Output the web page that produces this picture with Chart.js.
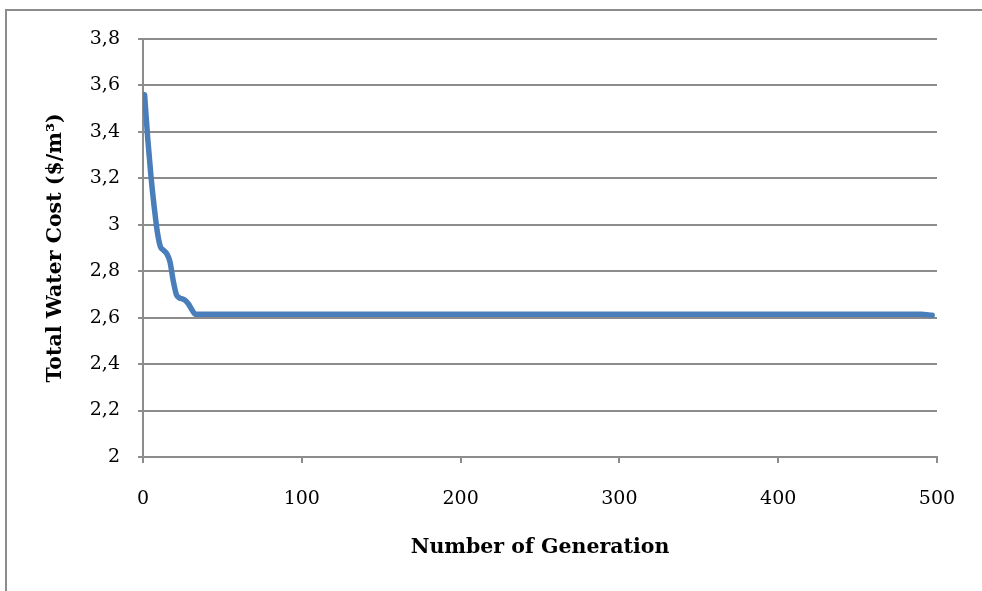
<!DOCTYPE html>
<html>
<head>
<meta charset="utf-8">
<script src="https://cdn.jsdelivr.net/npm/chart.js@4.4.0/dist/chart.umd.min.js"></script>
<style>
  html, body { margin: 0; padding: 0; background: #fff; overflow: hidden; }
  #wrap { position: relative; width: 982px; height: 591px; overflow: hidden; }
  #frame { position: absolute; left: 5px; top: 9px; width: 1000px; height: 600px; border: 2px solid #8c8c8c; box-sizing: border-box; }
  #chart { position: absolute; left: 0; top: 0; }
</style>
</head>
<body>
<div id="wrap">
  <div id="frame"></div>
  <canvas id="chart" width="982" height="591"></canvas>
</div>
<script>
// generation number and best total water cost ($/m3)
const generations = [1, 3, 5, 7, 9, 11, 13, 15, 17, 19, 21, 23, 25, 27, 29, 31, 33, 50, 100, 150, 200, 250, 300, 350, 400, 450, 490, 497];
const waterCost = [3.56, 3.37, 3.21, 3.08, 2.97, 2.905, 2.89, 2.875, 2.84, 2.76, 2.70, 2.685, 2.68, 2.672, 2.655, 2.632, 2.615, 2.615, 2.615, 2.615, 2.615, 2.615, 2.615, 2.615, 2.615, 2.615, 2.615, 2.61];

const xMin = 0, xMax = 500, xStep = 100;
const yMin = 2, yMax = 3.8, yStep = 0.2;

const gridGrey = '#8c8c8c';
const tickFont = { family: 'DejaVu Serif', size: 19 };
const titleFont = { family: 'DejaVu Serif', size: 20.5, weight: 'bold' };

function commaDecimal(v) {
  return Number(v.toFixed(1)).toString().replace('.', ',');
}

document.addEventListener("DOMContentLoaded", function() {
  const points = generations.map((g, i) => ({ x: g, y: waterCost[i] }));

  const ctx = document.getElementById('chart').getContext('2d');
  new Chart(ctx, {
    type: 'line',
    data: {
      datasets: [{
        label: 'Total Water Cost',
        data: points,
        borderColor: '#4a7ebb',
        borderWidth: 5.5,
        borderCapStyle: 'round',
        borderJoinStyle: 'round',
        pointRadius: 0,
        cubicInterpolationMode: 'monotone',
        fill: false,
      }]
    },
    options: {
      responsive: false,
      animation: false,
      layout: { padding: { top: 39, right: 45, bottom: 0, left: 0 } },
      plugins: {
        legend: { display: false },
        tooltip: { enabled: false },
      },
      scales: {
        x: {
          type: 'linear',
          min: xMin,
          max: xMax,
          ticks: { stepSize: xStep, font: tickFont, color: '#000', padding: 25, maxRotation: 0 },
          grid: { drawOnChartArea: false, drawTicks: true, tickLength: 6, color: gridGrey, lineWidth: 2 },
          border: { color: gridGrey, width: 2 },
          title: { display: true, text: 'Number of Generation', font: titleFont, color: '#000', padding: { top: 0, bottom: 31 } },
          afterFit: function(s) { s.height = 134; },
        },
        y: {
          min: yMin,
          max: yMax,
          ticks: { stepSize: yStep, font: tickFont, color: '#000', padding: 18, callback: commaDecimal },
          grid: { color: gridGrey, lineWidth: 2, tickLength: 5 },
          border: { color: gridGrey, width: 2 },
          title: { display: true, text: 'Total Water Cost ($/m\u00B3)', font: titleFont, color: '#000', padding: { top: 43, bottom: 0 } },
          afterFit: function(s) { s.width = 143; },
        },
      },
    },
  });
});
</script>
</body>
</html>
